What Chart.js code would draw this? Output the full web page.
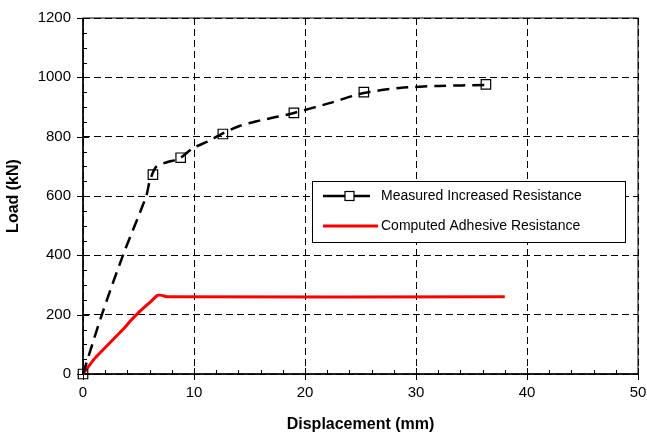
<!DOCTYPE html>
<html><head><meta charset="utf-8">
<script src="https://cdn.jsdelivr.net/npm/chart.js@4/dist/chart.umd.min.js"></script>
<style>html,body{margin:0;padding:0;background:#fff}canvas{display:block}</style>
</head><body>
<canvas id="c" width="647" height="434"></canvas>
<script>
// Measured test points (markers)
const measuredX = [0, 6.3, 8.8, 12.6, 19.0, 25.3, 36.3];
const measuredY = [0, 672, 729, 809, 880, 950, 976];
// Measured trend curve (dashed)
const measuredCurveX = [0, 1.7, 3.6, 5.7, 6.0, 6.6, 7.5, 8.7, 9.9, 11.2, 12.6, 14.1, 15.9, 17.5, 19.0, 22.2, 25.3, 28.5, 32.1, 36.2];
const measuredCurveY = [0, 200, 400, 600, 648, 699, 713, 727, 761, 783, 811, 836, 854, 867, 880, 913, 947, 964, 971, 974];
// Computed adhesive resistance
const computedX = [0, 1.0, 1.5, 3.7, 4.2, 5.0, 6.1, 6.7, 7.1, 7.6, 38.0];
const computedY = [0, 50, 70, 154, 176, 207, 244, 265, 265, 260, 260];
// Axis ticks
const xTickValues = [0, 10, 20, 30, 40, 50];
const yTickValues = [0, 200, 400, 600, 800, 1000, 1200];
const seriesNames = ['Measured Increased Resistance', 'Computed Adhesive Resistance'];
const axisTitles = { x: 'Displacement (mm)', y: 'Load (kN)' };

const FONT = 'Liberation Sans, Arial, Helvetica, sans-serif';
const pts = (xs, ys) => xs.map((x, i) => ({ x, y: ys[i] }));

const framePlugin = {
  id: 'frame',
  beforeDatasetsDraw(chart) {
    const { ctx, chartArea: a, scales: { x, y } } = chart;
    ctx.save();
    ctx.strokeStyle = '#000';
    ctx.lineWidth = 1;
    ctx.strokeRect(a.left, a.top, a.right - a.left, a.bottom - a.top);
    ctx.lineWidth = 1.5;
    ctx.beginPath();
    ctx.moveTo(a.left, a.top); ctx.lineTo(a.left, a.bottom); ctx.lineTo(a.right, a.bottom);
    ctx.stroke();
    ctx.lineWidth = 1;
    ctx.beginPath();
    for (let v = 0; v <= 50; v += 2) {
      const px = Math.round(x.getPixelForValue(v)) + 0.5;
      if (v % 10 === 0) { ctx.moveTo(px, a.bottom - 6); ctx.lineTo(px, a.bottom + 6); }
      else { ctx.moveTo(px, a.bottom); ctx.lineTo(px, a.bottom - 4); }
    }
    for (let v = 0; v <= 1200; v += 50) {
      const py = Math.round(y.getPixelForValue(v)) + 0.5;
      if (v % 200 === 0) { ctx.moveTo(a.left - 6, py); ctx.lineTo(a.left + 6, py); }
      else { ctx.moveTo(a.left, py); ctx.lineTo(a.left + 4, py); }
    }
    ctx.stroke();
    ctx.restore();
  },
  afterDraw(chart) {
    const { ctx } = chart;
    const ds = chart.data.datasets;
    ctx.save();
    const bx = 312.5, by = 181.5, bw = 313, bh = 61;
    ctx.fillStyle = '#fff';
    ctx.fillRect(bx, by, bw, bh);
    ctx.strokeStyle = '#000';
    ctx.lineWidth = 1;
    ctx.strokeRect(bx, by, bw, bh);
    const r1 = 196, r2 = 226;
    ctx.strokeStyle = ds[1].borderColor;
    ctx.lineWidth = 2.5;
    ctx.beginPath(); ctx.moveTo(323, r1); ctx.lineTo(370, r1); ctx.stroke();
    ctx.fillStyle = '#fff';
    ctx.lineWidth = 1.2;
    ctx.fillRect(345, r1 - 4.5, 9, 9);
    ctx.strokeRect(345, r1 - 4.5, 9, 9);
    ctx.strokeStyle = ds[2].borderColor;
    ctx.lineWidth = 3;
    ctx.beginPath(); ctx.moveTo(323, r2); ctx.lineTo(378, r2); ctx.stroke();
    ctx.fillStyle = '#000';
    ctx.font = '14px ' + FONT;
    ctx.textBaseline = 'middle';
    ctx.textAlign = 'left';
    ctx.fillText(seriesNames[0], 381, r1);
    ctx.fillText(seriesNames[1], 381, r2);
    ctx.restore();
  }
};

new Chart(document.getElementById('c'), {
  type: 'scatter',
  data: {
    datasets: [
      {
        label: seriesNames[0] + ' (points)',
        data: pts(measuredX, measuredY),
        showLine: false,
        clip: false,
        pointStyle: 'rect',
        pointRadius: 6.7,
        pointBorderWidth: 1.2,
        pointBorderColor: '#000',
        pointBackgroundColor: 'rgba(255,255,255,0)',
        order: 0
      },
      {
        label: seriesNames[0],
        data: pts(measuredCurveX, measuredCurveY),
        showLine: true,
        clip: false,
        borderColor: '#000',
        borderWidth: 2.5,
        borderDash: [12, 7],
        pointRadius: 0,
        tension: 0.3,
        order: 1
      },
      {
        label: seriesNames[1],
        data: pts(computedX, computedY),
        showLine: true,
        clip: false,
        borderColor: '#ff0000',
        borderWidth: 3,
        pointRadius: 0,
        tension: 0.15,
        order: 2
      }
    ]
  },
  options: {
    responsive: false,
    animation: false,
    devicePixelRatio: 1,
    layout: { padding: { top: 18, right: 9, left: 0, bottom: 0 } },
    plugins: { legend: { display: false }, tooltip: { enabled: false } },
    scales: {
      x: {
        type: 'linear', min: 0, max: 50,
        afterFit(s) { s.height = 60; s.paddingLeft = 0; s.paddingRight = 0; },
        afterBuildTicks(s) { s.ticks = xTickValues.map(v => ({ value: v })); },
        ticks: { padding: 10, color: '#000', font: { family: FONT, size: 15 }, callback: v => String(v) },
        grid: { color: '#000', lineWidth: 1, drawTicks: false },
        border: { display: false, dash: [7, 4] },
        title: { display: true, text: axisTitles.x, color: '#000', padding: { top: 0, bottom: 0 }, font: { family: FONT, size: 16, weight: 'bold' } }
      },
      y: {
        type: 'linear', min: 0, max: 1200,
        afterFit(s) { s.width = 83; s.paddingTop = 0; s.paddingBottom = 0; },
        afterBuildTicks(s) { s.ticks = yTickValues.map(v => ({ value: v })); },
        ticks: { padding: 12, color: '#000', font: { family: FONT, size: 15 }, callback: v => String(v) },
        grid: { color: '#000', lineWidth: 1, drawTicks: false },
        border: { display: false, dash: [7, 4] },
        title: { display: true, text: axisTitles.y, color: '#000', padding: { top: 4, bottom: 0 }, font: { family: FONT, size: 16, weight: 'bold' } }
      }
    }
  },
  plugins: [framePlugin]
});
</script>
</body></html>
